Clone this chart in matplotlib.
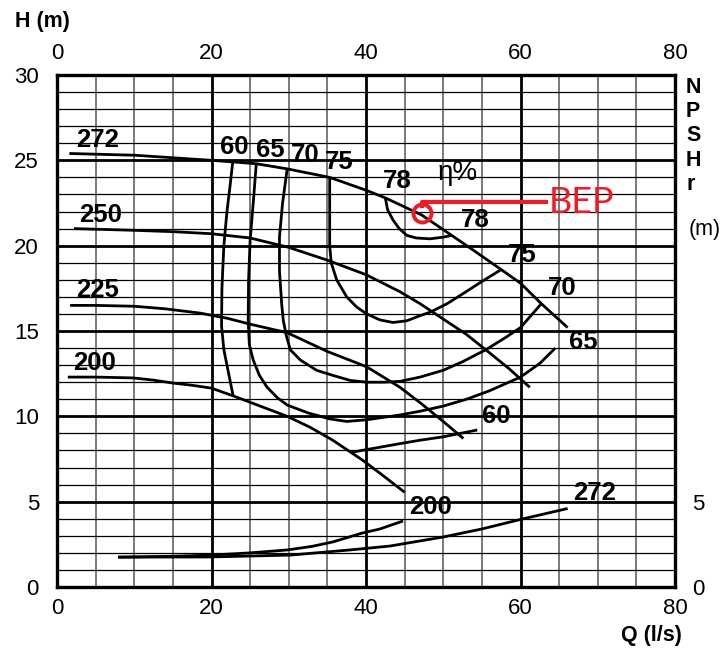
import matplotlib
matplotlib.use("Agg")
import matplotlib.pyplot as plt

plt.rcParams['font.family'] = ['Liberation Sans', 'DejaVu Sans']

# ---- Head curves per impeller diameter: flow Q (l/s) and head H (m) ----
q_272 = [1.6, 10, 15, 20, 23, 25.8, 29.8, 35.3, 40, 42.5, 47.2, 51.1, 54, 57.5, 60, 62.7, 66.1]
h_272 = [25.4, 25.3, 25.15, 25.0, 24.9, 24.8, 24.5, 24.0, 23.25, 22.8, 21.8, 20.6, 19.7, 18.6, 17.8, 16.6, 15.2]

q_250 = [2.2, 10, 15, 20, 25, 30, 35, 40, 44.4, 47, 50, 53, 55.5, 58.5, 61.2]
h_250 = [21.0, 20.9, 20.82, 20.7, 20.45, 19.9, 19.15, 18.3, 17.3, 16.6, 15.7, 14.8, 13.9, 12.8, 11.7]

q_225 = [1.7, 5, 10, 14, 18.5, 22, 25, 29.8, 35, 40.1, 44.4, 47, 50, 52.6]
h_225 = [16.5, 16.5, 16.45, 16.3, 16.05, 15.75, 15.4, 14.9, 13.8, 12.9, 11.7, 10.8, 9.7, 8.7]

q_200 = [1.4, 5, 9.9, 12.5, 15, 17.5, 20, 22.8, 26.3, 29.8, 32.8, 35.7, 39.5, 42, 45]
h_200 = [12.3, 12.3, 12.25, 12.12, 11.95, 11.82, 11.65, 11.2, 10.6, 10.0, 9.35, 8.6, 7.45, 6.6, 5.55]

# ---- Iso-efficiency curves (eta %) ----
q_e60a = [22.75, 22.4, 22.0, 21.6, 21.35, 21.3, 21.6, 22.4, 22.8]
h_e60a = [24.9, 23.5, 22.0, 20.0, 17.5, 15.3, 13.9, 12.1, 11.2]
q_e60b = [38.2, 44.4, 47, 50, 54.4]
h_e60b = [7.9, 8.4, 8.6, 8.8, 9.2]

q_e65 = [25.8, 25.4, 25.0, 24.8, 24.75, 24.9, 25.4, 26.2, 27.2, 28.5, 29.8, 32.5, 35.3, 37.5,
         40.1, 44.4, 47, 50, 53, 56, 60, 62.5, 64.5]
h_e65 = [24.8, 22.5, 20.3, 18.0, 15.6, 14.2, 13.3, 12.4, 11.7, 11.1, 10.66, 10.2, 9.85, 9.7,
         9.8, 10.08, 10.3, 10.6, 11.0, 11.5, 12.3, 13.1, 14.0]

q_e70 = [29.8, 29.2, 28.8, 28.8, 29.1, 29.3, 29.7, 30.2, 31.5, 33.6, 35.7, 38, 40.1,
         42.5, 44.4, 47, 50, 52.5, 55.5, 58, 60, 62.7]
h_e70 = [24.5, 22.5, 20.5, 18.5, 16.5, 15.6, 14.7, 13.9, 13.3, 12.7, 12.4, 12.1, 12.0,
         12.0, 12.05, 12.3, 12.7, 13.2, 13.9, 14.6, 15.2, 16.6]

q_e75 = [35.3, 35.3, 35.3, 35.5, 36.2, 37.5, 38.8, 40.1, 41.8, 43.5, 45.3, 47, 48.3,
         50.5, 52.6, 55, 57.5]
h_e75 = [24.0, 22.0, 20.0, 19.0, 18.0, 17.0, 16.4, 16.0, 15.65, 15.5, 15.6, 15.9, 16.1,
         16.6, 17.2, 17.9, 18.6]

q_e78 = [42.5, 42.8, 43.5, 44.3, 45.3, 46.5, 48.3, 50, 51.1]
h_e78 = [22.8, 22.1, 21.5, 21.0, 20.6, 20.45, 20.4, 20.5, 20.6]

# ---- NPSHr curves (m) ----
q_npsh200 = [7.9, 15, 20, 25, 29.8, 33, 35.7, 39.5, 41.8, 44.8]
h_npsh200 = [1.75, 1.8, 1.87, 2.0, 2.17, 2.38, 2.64, 3.16, 3.4, 3.87]
q_npsh272 = [7.9, 19.8, 30.2, 37.9, 43.1, 50, 55, 60.2, 66.1]
h_npsh272 = [1.75, 1.76, 1.87, 2.17, 2.4, 2.93, 3.4, 3.98, 4.6]

# best efficiency point
bep_q, bep_h = 47.25, 21.9

x_ticks = [0, 20, 40, 60, 80]
y_ticks = [0, 5, 10, 15, 20, 25, 30]
npsh_ticks = [0, 5]

W, H = 724, 649
fig = plt.figure(figsize=(W / 100, H / 100), dpi=100)
ax = fig.add_axes([57 / W, 62 / H, 618 / W, 512 / H])
ax.set_xlim(0, 80)
ax.set_ylim(0, 30)

# chart-paper grid
for q in range(5, 80, 5):
    if q % 20 == 0:
        ax.axvline(q, color='black', lw=2.0, zorder=1)
    else:
        ax.axvline(q, color='#7a7a7a', lw=1.4, zorder=1)
for h in range(1, 30):
    if h % 5 == 0:
        ax.axhline(h, color='black', lw=2.0, zorder=1)
    else:
        ax.axhline(h, color='black', lw=0.9, zorder=1)

curve_kw = dict(color='black', lw=2.0, zorder=3, solid_capstyle='butt',
                solid_joinstyle='round')
for qs, hs in [(q_272, h_272), (q_250, h_250), (q_225, h_225), (q_200, h_200),
               (q_e60a, h_e60a), (q_e60b, h_e60b), (q_e65, h_e65), (q_e70, h_e70),
               (q_e75, h_e75), (q_e78, h_e78), (q_npsh200, h_npsh200),
               (q_npsh272, h_npsh272)]:
    ax.plot(qs, hs, **curve_kw)

lab_kw = dict(fontsize=18.5, fontweight='bold', ha='center', va='center', zorder=4)
# diameter labels
ax.text(5.3, 26.2, '272', **lab_kw)
ax.text(5.7, 21.8, '250', **lab_kw)
ax.text(5.2, 17.4, '225', **lab_kw)
ax.text(4.9, 13.1, '200', **lab_kw)
ax.text(48.3, 4.7, '200', **lab_kw)
ax.text(69.6, 5.5, '272', **lab_kw)
# efficiency labels
ax.text(23.0, 25.8, '60', **lab_kw)
ax.text(27.6, 25.6, '65', **lab_kw)
ax.text(32.1, 25.3, '70', **lab_kw)
ax.text(36.6, 24.9, '75', **lab_kw)
ax.text(44.1, 23.8, '78', **lab_kw)
ax.text(54.1, 21.5, '78', **lab_kw)
ax.text(60.2, 19.45, '75', **lab_kw)
ax.text(65.4, 17.5, '70', **lab_kw)
ax.text(68.1, 14.35, '65', **lab_kw)
ax.text(56.8, 10.0, '60', **lab_kw)
ax.text(51.9, 24.25, 'η%', fontsize=20, ha='center', va='center', zorder=4)

# BEP marker and leader
red = '#ee1c25'
ax.plot([bep_q], [bep_h], marker='o', ms=13, mfc='none', mec=red, mew=2.8, zorder=5)
ax.plot([bep_q, bep_q, 63.3], [bep_h + 0.45, 22.55, 22.55], color=red, lw=3, zorder=5)
ax.text(63.6, 22.55, 'BEP', color=red, fontsize=26, family=['Lato', 'DejaVu Sans'],
        ha='left', va='center', zorder=5)

ax.set_xticks(x_ticks)
ax.set_yticks(y_ticks)
ax.tick_params(axis='x', length=0, labelsize=16, pad=8, labeltop=True)
ax.tick_params(axis='y', length=0, labelsize=16, pad=13)
for s in ax.spines.values():
    s.set_linewidth(2.4)
    s.set_zorder(6)

ax2 = ax.twinx()
ax2.set_ylim(0, 30)
ax2.set_yticks(npsh_ticks)
ax2.tick_params(axis='y', length=0, labelsize=16, pad=12)
for s in ax2.spines.values():
    s.set_visible(False)

fig.text(15 / W, 1 - 22 / H, 'H (m)', fontsize=15.5, fontweight='bold', ha='left', va='center')
fig.text(682 / W, 1 - 636 / H, 'Q (l/s)', fontsize=15.5, fontweight='bold', ha='right', va='center')
fig.text(686 / W, 1 - 77 / H, 'N\nP\nS\nH\nr', fontsize=15.5, fontweight='bold',
         ha='left', va='top', linespacing=1.2)
fig.text(689 / W, 1 - 230 / H, '(m)', fontsize=15.5, ha='left', va='center')

fig.savefig('out.png', dpi=100)
